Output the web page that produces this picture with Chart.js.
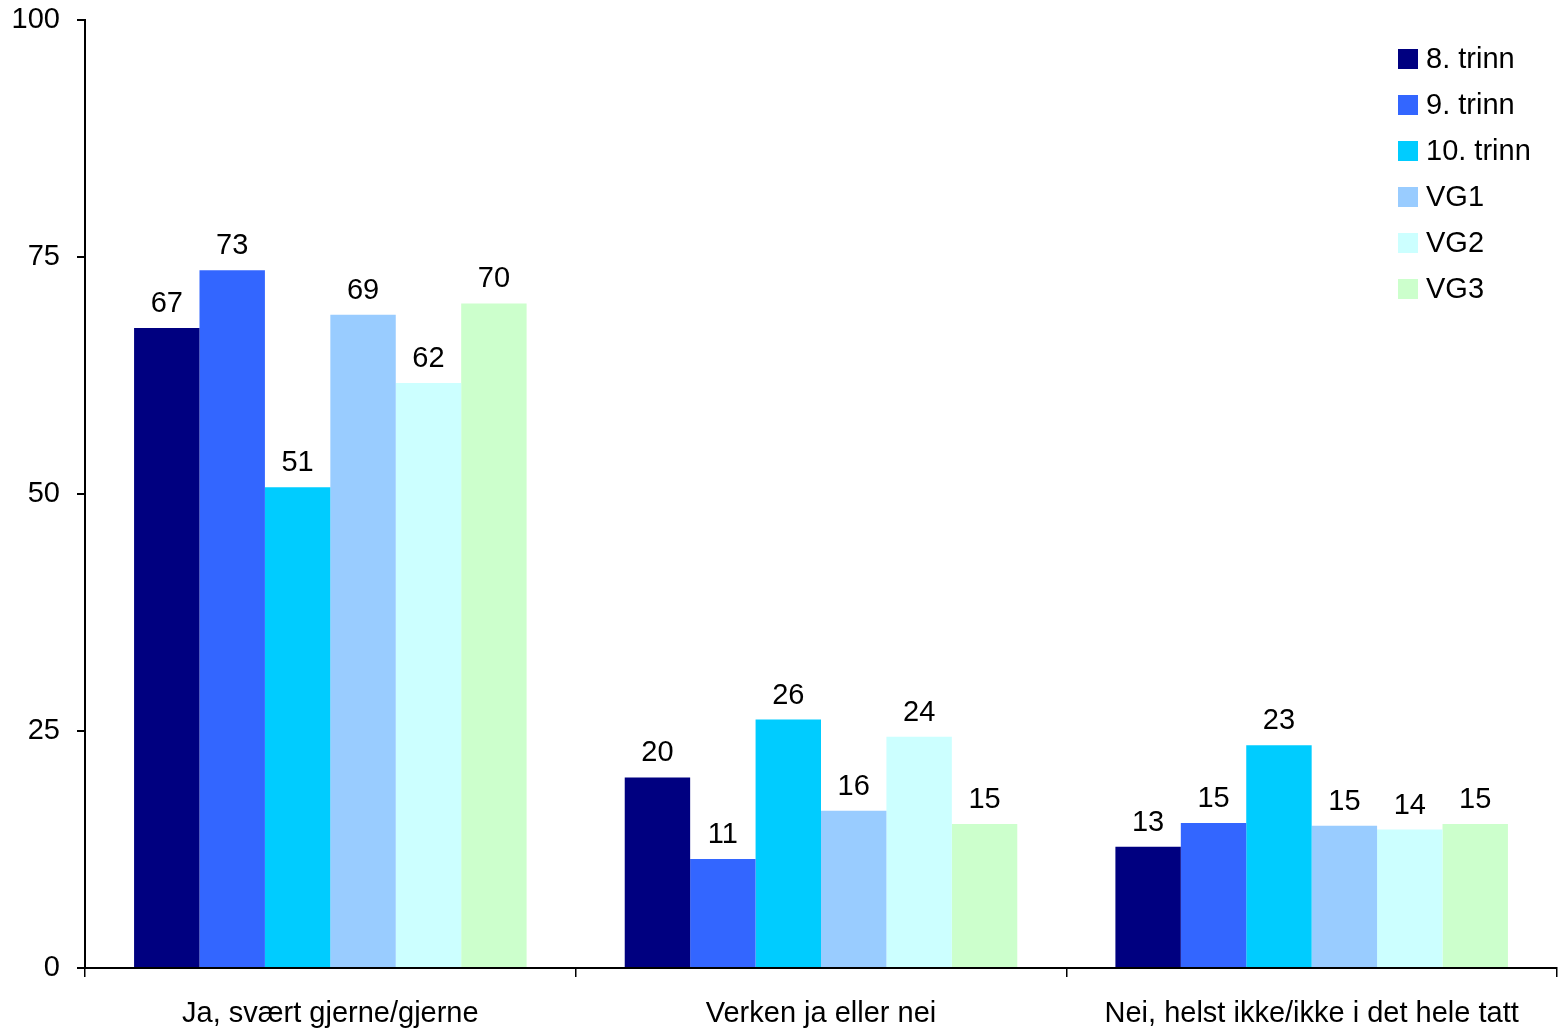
<!DOCTYPE html>
<html>
<head>
<meta charset="utf-8">
<script src="https://cdn.jsdelivr.net/npm/chart.js@4.4.1/dist/chart.umd.min.js"></script>
<style>
  html, body { margin:0; padding:0; background:#fff; }
  #wrap { width:1566px; height:1030px; }
</style>
</head>
<body>
<div id="wrap"><canvas id="chart" width="1566" height="1030"></canvas></div>
<script>
// --- Data ---
const categories = ["Ja, svært gjerne/gjerne", "Verken ja eller nei", "Nei, helst ikke/ikke i det hele tatt"];
const seriesNames = ["8. trinn", "9. trinn", "10. trinn", "VG1", "VG2", "VG3"];
// bar heights as measured
const trinn8  = [67.5, 20.1, 12.8];
const trinn9  = [73.6, 11.5, 15.3];
const trinn10 = [50.7, 26.2, 23.5];
const vg1     = [68.9, 16.6, 15.0];
const vg2     = [61.7, 24.4, 14.6];
const vg3     = [70.1, 15.2, 15.2];
// printed labels
const trinn8Lbl  = [67, 20, 13];
const trinn9Lbl  = [73, 11, 15];
const trinn10Lbl = [51, 26, 23];
const vg1Lbl     = [69, 16, 15];
const vg2Lbl     = [62, 24, 14];
const vg3Lbl     = [70, 15, 15];
const yTicks  = [0, 25, 50, 75, 100];

const colors = ["#000080", "#3366ff", "#00ccff", "#99ccff", "#ccffff", "#ccffcc"];
const FONT = "Liberation Sans, Arial, sans-serif";
const FS = 29;

// --- Plugins ---
const valueLabels = {
  id: 'valueLabels',
  afterDatasetsDraw(chart){
    const ctx = chart.ctx;
    ctx.save();
    ctx.font = FS + "px " + FONT;
    ctx.fillStyle = "#000";
    ctx.textAlign = "center";
    ctx.textBaseline = "alphabetic";
    chart.data.datasets.forEach((ds,i)=>{
      chart.getDatasetMeta(i).data.forEach((bar,j)=>{
        ctx.fillText(ds.printed[j], bar.x, bar.y - 16);
      });
    });
    ctx.restore();
  }
};

const sideLegend = {
  id: 'sideLegend',
  afterDraw(chart){
    const ctx = chart.ctx;
    ctx.save();
    ctx.font = FS + "px " + FONT;
    ctx.textAlign = "left";
    ctx.textBaseline = "middle";
    chart.data.datasets.forEach((ds,i)=>{
      const y = 59 + i*46;
      ctx.fillStyle = ds.backgroundColor;
      ctx.fillRect(1398, y-10, 20, 20);
      ctx.fillStyle = "#000";
      ctx.fillText(ds.label, 1426, y+1);
    });
    ctx.restore();
  }
};

// --- Chart ---
const allSeries = [trinn8, trinn9, trinn10, vg1, vg2, vg3];
const allLabels = [trinn8Lbl, trinn9Lbl, trinn10Lbl, vg1Lbl, vg2Lbl, vg3Lbl];
new Chart(document.getElementById('chart').getContext('2d'), {
  type: 'bar',
  data: {
    labels: categories,
    datasets: allSeries.map((d,i)=>({
      label: seriesNames[i],
      data: d,
      printed: allLabels[i],
      backgroundColor: colors[i],
      borderWidth: 0,
      categoryPercentage: 0.8,
      barPercentage: 1.0
    }))
  },
  options: {
    responsive: false,
    animation: false,
    layout: { padding: { top: 20, right: 9, left: 0, bottom: 0 } },
    plugins: { legend: { display: false }, tooltip: { enabled: false } },
    scales: {
      x: {
        grid: { offset: true, drawOnChartArea: false, drawTicks: true, tickLength: 9, color: "#000", lineWidth: 1.5 },
        border: { display: true, color: "#000", width: 2 },
        ticks: { color: "#000", font: { family: FONT, size: FS }, padding: 20, maxRotation: 0 },
        afterFit(s){ s.height = 62; s.paddingLeft = 0; s.paddingRight = 0; }
      },
      y: {
        min: 0, max: 100,
        afterBuildTicks(s){ s.ticks = yTicks.map(v=>({value:v})); },
        grid: { drawOnChartArea: false, drawTicks: true, tickLength: 8, color: "#000", lineWidth: 2 },
        border: { display: true, color: "#000", width: 2 },
        ticks: { color: "#000", font: { family: FONT, size: FS }, padding: 17 },
        afterFit(s){ s.width = 85; s.paddingTop = 0; s.paddingBottom = 0; }
      }
    }
  },
  plugins: [valueLabels, sideLegend]
});
</script>
</body>
</html>
